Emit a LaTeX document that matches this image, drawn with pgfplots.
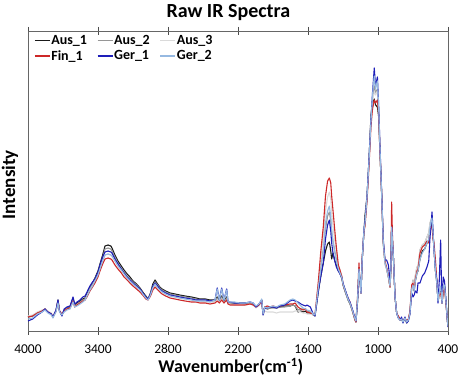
\documentclass[border=0pt]{standalone}
\usepackage{pgfplots}
\pgfplotsset{compat=1.18}
\usepackage{pgfplotstable}
\usepackage{fontspec}
\setmainfont{Carlito}
\definecolor{cA1}{RGB}{25,25,25}
\definecolor{cA2}{RGB}{150,150,150}
\definecolor{cA3}{RGB}{218,218,218}
\definecolor{cF1}{RGB}{205,40,40}
\definecolor{cG1}{RGB}{30,30,185}
\definecolor{cG2}{RGB}{150,185,225}
\pgfplotstableread{
w A1 A2 A3 F1 G1 G2
4000 14 14 15 14 10 12
3960 15 15 16 15 12 13
3920 18 18 19 18 16 17
3880 20 20 21 20 19 19
3854 22 22 22 22 22 21
3830 19 19 20 19 19 18
3800 17 17 18 17 17 16
3786 14 14 15 14 14 13
3760 20 20 20 20 21 19
3743 31 30 29 30 31 28
3730 20 20 21 20 20 19
3709 16 16 17 17 15 16
3690 21 20 20 20 22 19
3666 23 23 22 22 24 21
3640 24 23 22 23 25 22
3614 33 31 30 30 34 29
3600 26 25 24 24 27 24
3580 28 27 26 26 29 25
3554 30 29 28 28 31 27
3530 32 31 30 30 34 29
3511 33 32 31 31 35 31
3490 38 37 36 35 40 36
3469 44 43 41 40 45 41
3447 48 47 45 44 49 45
3426 53 52 50 48 52 50
3400 60 58 56 54 59 56
3383 67 65 62 60 66 62
3360 76 73 70 67 74 70
3340 85 82 76 72 79 76
3314 86 83 77 73 80 77
3290 85 82 76 72 79 76
3280 83 80 75 71 78 75
3255 76 74 70 66 72 70
3229 70 68 65 62 67 65
3200 65 63 60 58 62 61
3177 61 59 57 54 58 57
3150 57 55 53 51 54 53
3126 54 52 50 48 51 50
3100 50 49 47 45 48 47
3070 47 46 44 42 45 44
3040 43 42 41 39 42 41
3010 38 37 36 35 37 36
2990 35 34 33 32 34 33
2971 32 32 31 31 32 31
2950 38 37 36 35 37 36
2930 47 45 43 41 45 43
2911 51 49 46 44 48 47
2895 48 47 44 42 46 44
2870 44 43 41 39 42 41
2851 42 41 39 37 40 39
2820 40 39 37 35 38 37
2783 38 37 35 33 36 35
2740 37 36 34 32 35 34
2700 36 35 33 31 34 33
2654 35 34 32 30 33 32
2600 34 33 31 29 32 31
2560 33 32 30 29 31 30
2526 32 31 30 28 31 30
2480 32 31 29 28 31 30
2440 31 30 29 27 30 29
2397 31 30 29 28 31 31
2378 34 33 31 30 43 42
2360 31 30 29 28 31 31
2340 35 34 32 31 43 42
2320 30 29 28 28 31 31
2297 34 33 31 31 42 41
2285 29 28 27 27 29 29
2269 28 28 27 26 29 29
2230 28 28 26 26 28 29
2183 28 28 26 26 28 28
2140 28 27 26 26 28 28
2097 28 28 27 27 29 29
2070 27 27 26 26 28 28
2046 24 24 23 24 24 25
2020 26 26 25 26 27 27
1997 31 31 29 30 31 32
1985 17 17 16 17 16 17
1970 24 24 20 24 23 24
1950 22 22 19 25 23 23
1926 23 23 19 24 24 24
1900 24 23 19 25 24 25
1870 23 23 18 24 23 24
1840 24 24 19 25 25 26
1800 25 24 19 26 26 27
1754 25 25 19 27 30 31
1730 26 26 19 27 31 32
1710 25 25 20 28 30 31
1686 19 21 20 24 29 28
1660 20 22 19 22 27 25
1643 19 22 18 21 26 23
1620 20 22 18 22 25 22
1609 18 20 17 19 26 21
1580 18 19 17 18 24 20
1555 16 17 16 17 17 17
1540 15 16 16 16 15 16
1511 40 44 48 50 40 44
1490 55 64 72 80 55 62
1469 68 82 95 104 68 80
1450 80 102 120 135 92 108
1432 87 115 134 150 106 120
1417 89 119 139 153 111 125
1405 80 110 132 148 100 115
1397 72 98 118 135 88 102
1386 78 90 105 121 78 90
1370 70 80 90 100 70 78
1357 66 72 80 84 64 70
1340 60 62 65 66 60 62
1326 58 59 61 61 57 58
1309 52 53 55 54 53 53
1300 46 47 48 47 48 47
1283 40 41 42 41 42 41
1257 31 32 32 33 33 32
1240 27 28 28 29 29 28
1220 20 21 21 21 22 21
1197 11 12 12 11 13 12
1189 9 10 11 9 10 10
1175 30 32 34 35 30 32
1163 60 61 63 68 61 62
1155 52 52 52 50 52 52
1146 38 38 38 38 38 38
1135 72 72 74 74 72 72
1120 100 100 102 100 102 101
1111 116 108 108 105 110 108
1094 135 133 133 130 135 134
1077 172 170 168 165 172 170
1060 216 212 210 205 212 210
1047 228 232 230 222 238 236
1032 232 245 240 231 263 255
1021 226 238 236 228 245 242
1005 224 242 240 231 254 250
995 215 222 220 218 228 226
983 178 180 178 180 185 183
969 138 138 136 138 140 138
955 88 88 86 90 92 90
940 68 68 66 70 71 68
926 63 62 62 63 71 62
911 54 54 54 55 66 54
897 44 44 44 44 51 45
890 60 60 60 62 62 60
883 104 104 104 129 104 104
876 90 90 90 95 90 90
868 74 74 74 74 74 74
854 34 34 34 34 34 34
840 18 18 18 18 18 18
826 14 13 14 15 13 13
811 11 11 12 12 11 11
798 12 11 12 12 14 12
786 9 9 10 10 8 9
769 13 12 13 13 14 13
754 8 9 9 10 8 9
740 11 11 11 12 10 11
726 18 18 18 20 17 18
711 44 44 44 46 38 42
700 46 51 50 48 34 46
690 40 44 43 41 36 40
680 50 55 56 52 40 50
666 58 64 64 60 38 58
657 60 64 64 62 48 60
640 72 81 81 78 48 72
620 80 86 86 84 55 78
600 82 88 88 86 58 82
580 88 94 94 90 64 88
565 90 98 98 88 70 92
554 102 108 108 100 94 104
545 106 111 111 105 106 110
537 108 111 111 104 119 113
528 95 98 98 92 100 98
520 82 82 82 88 81 82
507 60 60 60 70 60 60
494 46 48 48 48 50 46
486 30 30 30 32 28 30
475 35 34 34 36 50 38
463 40 38 38 38 91 45
455 34 32 32 32 40 34
451 28 28 28 28 28 28
441 40 40 40 38 54 45
430 45 45 45 44 50 46
418 30 30 30 28 32 30
405 10 10 10 10 10 10
400 5 5 5 5 4 5
}\spectra
\begin{document}
\begin{tikzpicture}
\useasboundingbox (-28pt,-48pt) rectangle (434pt,331pt);
\begin{axis}[
  scale only axis,
  width=420pt, height=300pt,
  xmin=400, xmax=4000, ymin=0, ymax=300,
  x dir=reverse,
  xtick={400,1000,1600,2200,2800,3400,4000},
  ytick=\empty,
  /pgf/number format/set thousands separator={},
  /pgf/number format/assume math mode=true,
  tick align=center,
  major tick length=8pt,
  tick style={black!70, line width=0.8pt},
  axis line style={black!60, line width=0.9pt},
  xticklabel style={font=\fontsize{13.5}{15}\selectfont, anchor=center, yshift=-14pt},
  title={\textbf{Raw IR Spectra}},
  title style={font=\fontsize{20}{23}\selectfont, at={(axis description cs:0.477,1)}, anchor=center, yshift=12pt},
  xlabel={\textbf{Wavenumber(cm\textsuperscript{-1})}},
  xlabel style={font=\fontsize{18}{21}\selectfont, at={(axis description cs:0.483,0)}, anchor=center, yshift=-36pt},
  ylabel={\textbf{Intensity}},
  ylabel style={font=\fontsize{19}{22}\selectfont, at={(axis description cs:-0.043,0.488)}, anchor=center},
  legend columns=3,
  legend style={at={(axis description cs:0.012,0.995)}, anchor=north west, draw=none, fill=none,
    font=\fontsize{14}{16}\selectfont\bfseries, /tikz/every even column/.append style={column sep=9pt},
    row sep=1.5pt, inner sep=1pt, nodes={inner xsep=1pt, inner ysep=1.5pt}},
  legend cell align=left,
  legend image code/.code={\draw[#1] (0pt,0pt) -- (15pt,0pt);},
  every axis plot/.append style={line width=1.1pt, line join=round},
]
\addplot[cA1] table[x=w, y=A1] {\spectra};
\addplot[cA2] table[x=w, y=A2] {\spectra};
\addplot[cA3] table[x=w, y=A3] {\spectra};
\addplot[cF1] table[x=w, y=F1] {\spectra};
\addplot[cG1] table[x=w, y=G1] {\spectra};
\addplot[cG2] table[x=w, y=G2] {\spectra};
\legend{Aus\_1, Aus\_2, Aus\_3, Fin\_1, Ger\_1, Ger\_2}
\end{axis}
\end{tikzpicture}
\end{document}
